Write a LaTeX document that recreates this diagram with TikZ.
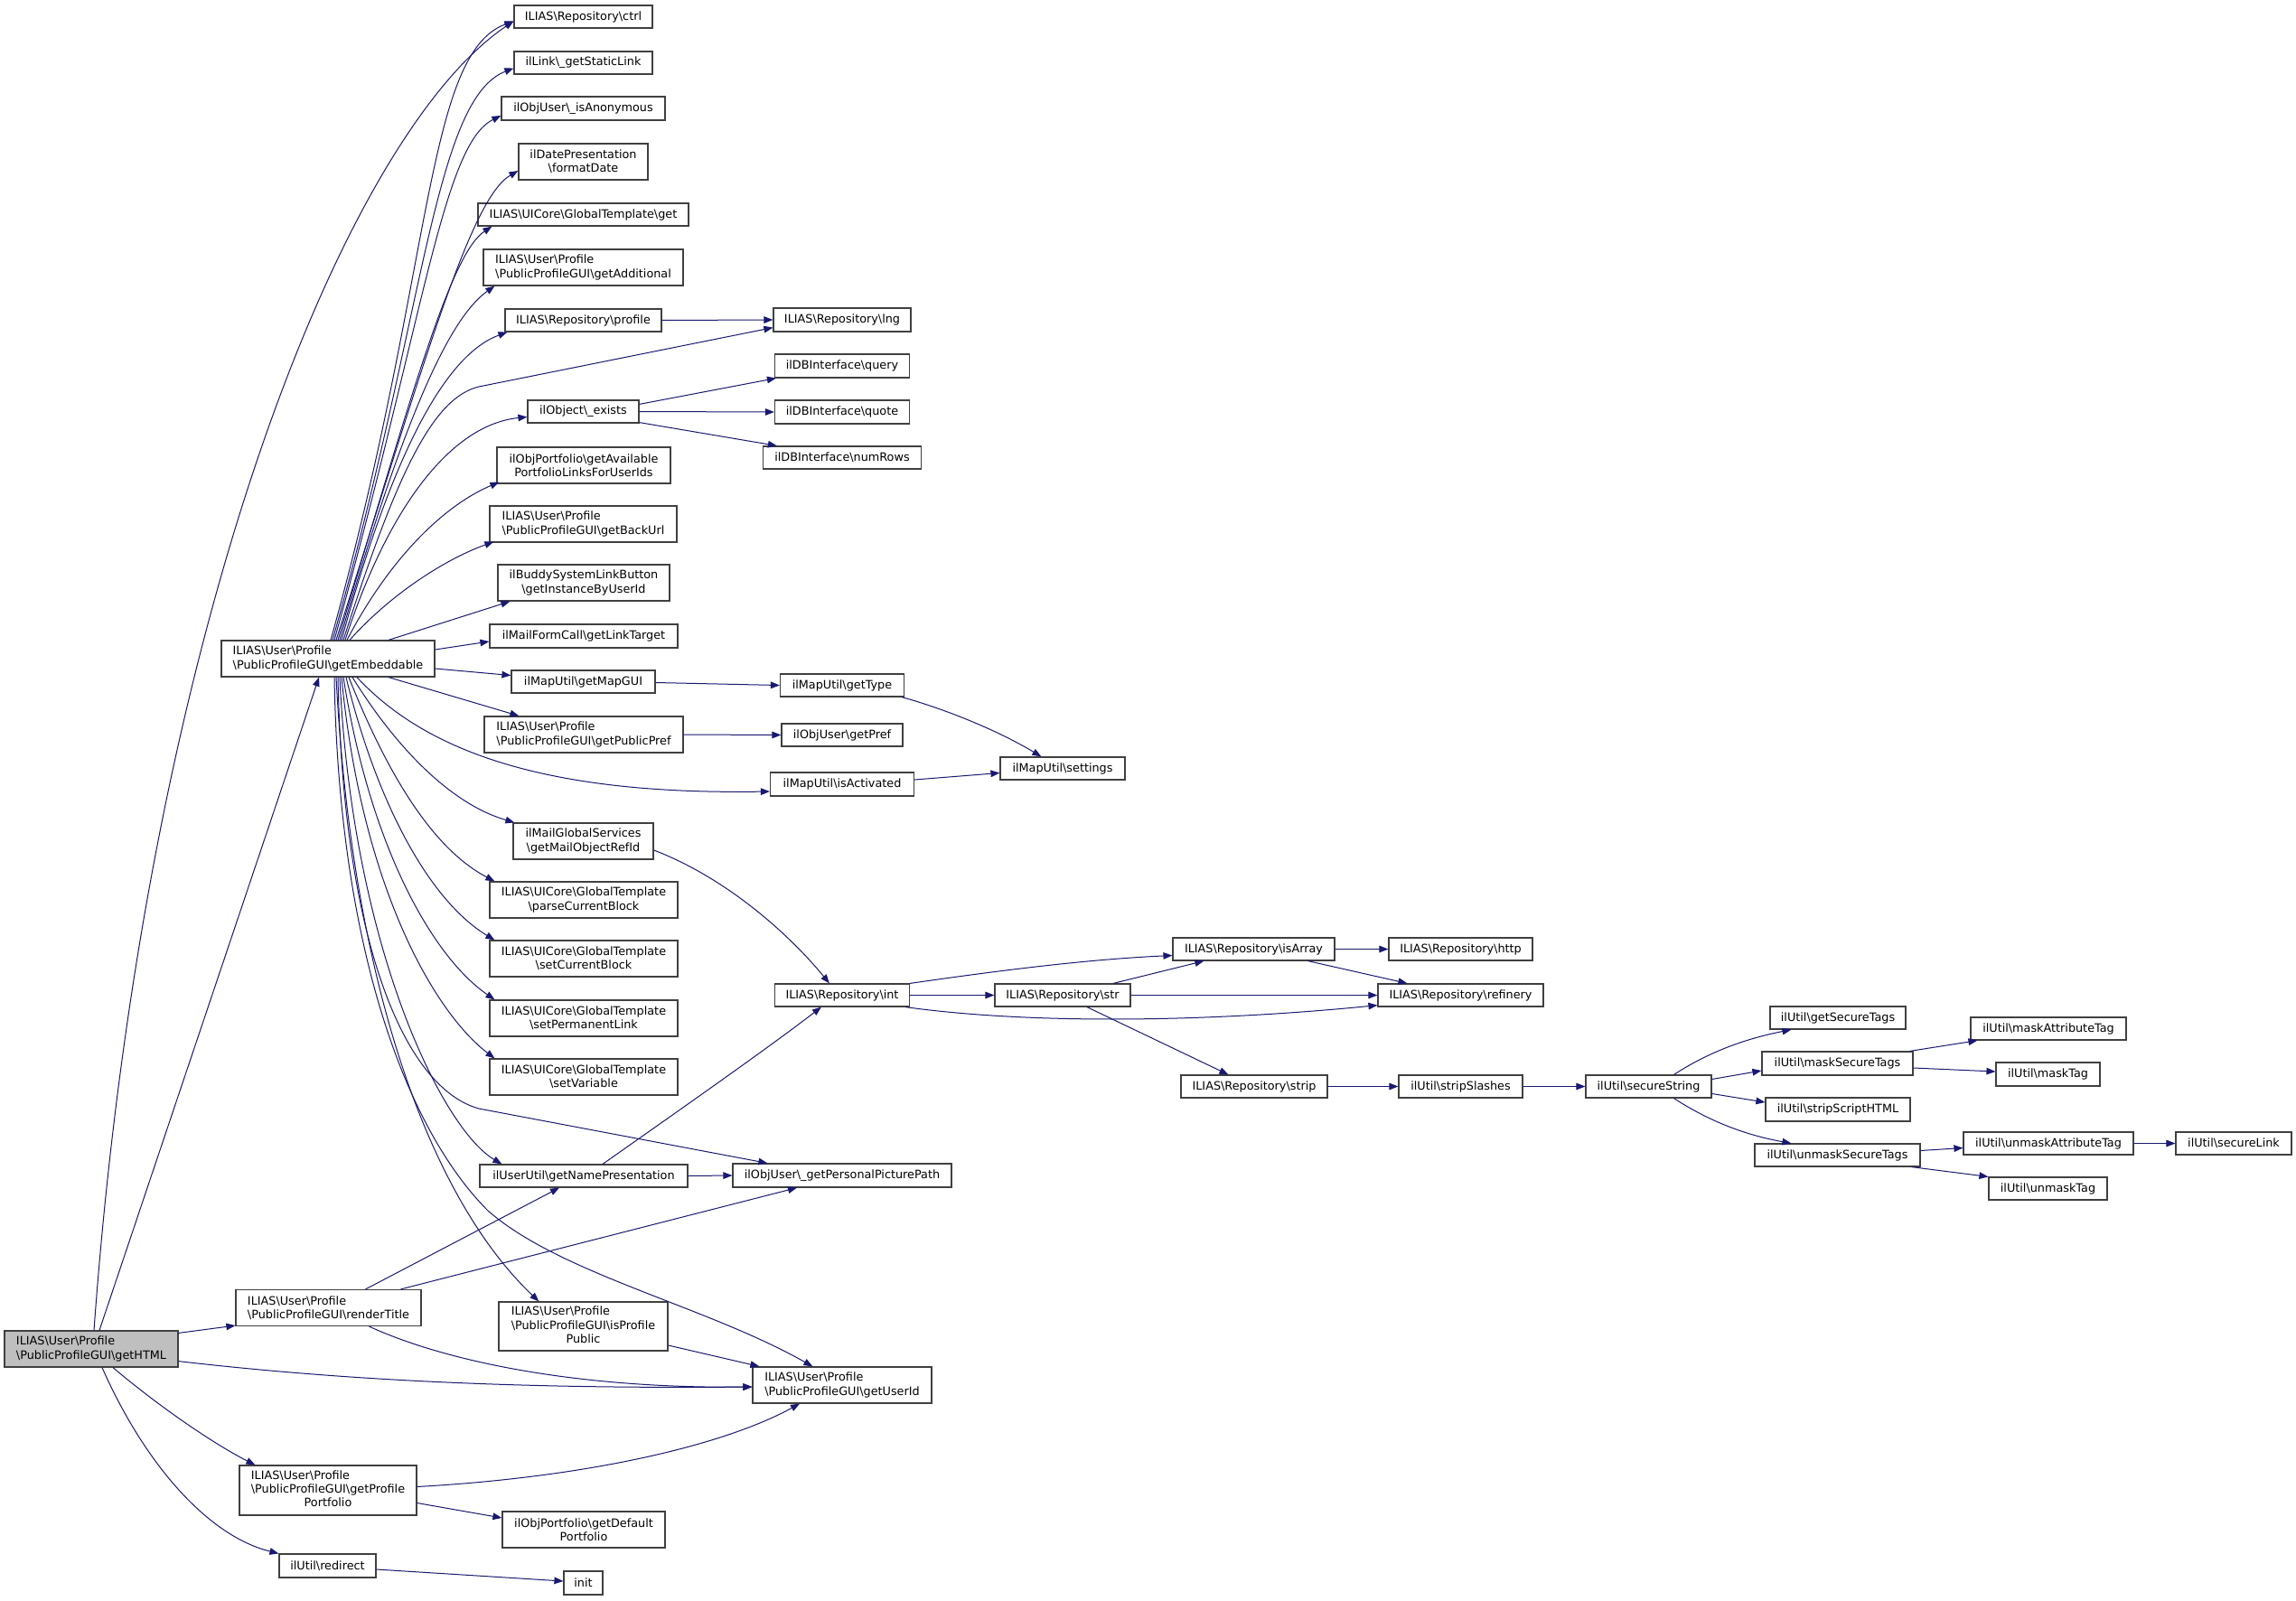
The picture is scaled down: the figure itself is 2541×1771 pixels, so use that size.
\documentclass[tikz,border=0pt]{standalone}
\usepackage{fontspec}
\newfontfamily\dxfont{DejaVu Sans}
\usetikzlibrary{calc, arrows.meta}

\definecolor{edgeblue}{HTML}{191970}
\definecolor{boxline}{HTML}{404040}
\definecolor{rootfill}{HTML}{BFBFBF}
\newcommand{\bsl}{\textbackslash}

\begin{document}
\begin{tikzpicture}[x=0.5pt, y=-0.5pt]
    \tikzstyle{fn} = [rectangle, draw=boxline, line width=0.6pt, fill=white, inner sep=0pt,
        font=\dxfont\fontsize{6.4}{7.65}\selectfont]
    \tikzstyle{call} = [draw=edgeblue, line width=0.5pt, -{Triangle[length=5pt, width=3.8pt]}]
    \tikzset{sz/.style 2 args={minimum width=#1*0.5pt, minimum height=#2*0.5pt}}

    \fill[white] (0,0) rectangle (2541,1771);
    \useasboundingbox (0,0) rectangle (2541,1771);

    % Callers ------------------------------------------
    \node (getHTML) at (101,1493) [fn, sz={192}{40}, fill=rootfill, align=left]
        {ILIAS\bsl User\bsl Profile\\\bsl PublicProfileGUI\bsl getHTML};
    \node (emb) at (363,729) [fn, sz={236}{40}, align=left]
        {ILIAS\bsl User\bsl Profile\\\bsl PublicProfileGUI\bsl getEmbeddable};
    \node (renderTitle) at (363.5,1447.5) [fn, sz={205}{40}, align=left]
        {ILIAS\bsl User\bsl Profile\\\bsl PublicProfileGUI\bsl renderTitle};
    \node (getProfilePortfolio) at (363,1649.5) [fn, sz={196}{55}]
        {\begin{tabular}{@{}l@{}}ILIAS\bsl User\bsl Profile\\\bsl PublicProfileGUI\bsl getProfile\\\multicolumn{1}{@{}c@{}}{Portfolio}\end{tabular}};
    \node (redirect) at (362.5,1733) [fn, sz={107}{26}] {ilUtil\bsl redirect};

    % Second column ------------------------------------
    \node (ctrl) at (645.5,18.5) [fn, sz={153}{25}] {ILIAS\bsl Repository\bsl ctrl};
    \node (getStaticLink) at (645.5,69.5) [fn, sz={153}{25}] {ilLink\bsl\_getStaticLink};
    \node (isAnonymous) at (645.5,120) [fn, sz={181}{26}] {ilObjUser\bsl\_isAnonymous};
    \node (formatDate) at (645.5,179) [fn, sz={143}{40}, align=center]
        {ilDatePresentation\\\bsl formatDate};
    \node (gtGet) at (645.5,237.5) [fn, sz={233}{25}] {ILIAS\bsl UICore\bsl GlobalTemplate\bsl get};
    \node (getAdditional) at (645.5,296) [fn, sz={221}{40}, align=left]
        {ILIAS\bsl User\bsl Profile\\\bsl PublicProfileGUI\bsl getAdditional};
    \node (profile) at (645.5,354.5) [fn, sz={173}{25}] {ILIAS\bsl Repository\bsl profile};
    \node (exists) at (645.5,455.5) [fn, sz={123}{25}] {ilObject\bsl\_exists};
    \node (getAvailable) at (646,515) [fn, sz={192}{40}, align=center]
        {ilObjPortfolio\bsl getAvailable\\PortfolioLinksForUserIds};
    \node (getBackUrl) at (645.5,580) [fn, sz={207}{40}, align=left]
        {ILIAS\bsl User\bsl Profile\\\bsl PublicProfileGUI\bsl getBackUrl};
    \node (getInstance) at (646,645) [fn, sz={190}{40}, align=center]
        {ilBuddySystemLinkButton\\\bsl getInstanceByUserId};
    \node (getLinkTarget) at (646,704) [fn, sz={208}{26}] {ilMailFormCall\bsl getLinkTarget};
    \node (getMapGUI) at (645.5,754.5) [fn, sz={159}{25}] {ilMapUtil\bsl getMapGUI};
    \node (getPublicPref) at (646,813) [fn, sz={220}{40}, align=left]
        {ILIAS\bsl User\bsl Profile\\\bsl PublicProfileGUI\bsl getPublicPref};
    \node (getMailObjectRefId) at (645.5,931) [fn, sz={155}{40}, align=center]
        {ilMailGlobalServices\\\bsl getMailObjectRefId};
    \node (parseCurrentBlock) at (646,996) [fn, sz={208}{40}, align=center]
        {ILIAS\bsl UICore\bsl GlobalTemplate\\\bsl parseCurrentBlock};
    \node (setCurrentBlock) at (646,1061) [fn, sz={208}{40}, align=center]
        {ILIAS\bsl UICore\bsl GlobalTemplate\\\bsl setCurrentBlock};
    \node (setPermanentLink) at (646,1127) [fn, sz={208}{40}, align=center]
        {ILIAS\bsl UICore\bsl GlobalTemplate\\\bsl setPermanentLink};
    \node (setVariable) at (646,1192) [fn, sz={208}{40}, align=center]
        {ILIAS\bsl UICore\bsl GlobalTemplate\\\bsl setVariable};
    \node (getNamePresentation) at (646,1301.5) [fn, sz={230}{25}] {ilUserUtil\bsl getNamePresentation};
    \node (isProfilePublic) at (645.5,1468) [fn, sz={187}{54}]
        {\begin{tabular}{@{}l@{}}ILIAS\bsl User\bsl Profile\\\bsl PublicProfileGUI\bsl isProfile\\\multicolumn{1}{@{}c@{}}{Public}\end{tabular}};
    \node (getDefaultPortfolio) at (646,1693) [fn, sz={180}{40}, align=center]
        {ilObjPortfolio\bsl getDefault\\Portfolio};
    \node (init) at (645.5,1752) [fn, sz={43}{26}] {init};

    % Third column -------------------------------------
    \node (lng) at (932,354) [fn, sz={152}{26}] {ILIAS\bsl Repository\bsl lng};
    \node (query) at (932,405) [fn, sz={149}{26}] {ilDBInterface\bsl query};
    \node (quote) at (932,456) [fn, sz={149}{26}] {ilDBInterface\bsl quote};
    \node (numRows) at (932,506.5) [fn, sz={175}{25}] {ilDBInterface\bsl numRows};
    \node (getType) at (932,758.5) [fn, sz={137}{25}] {ilMapUtil\bsl getType};
    \node (getPref) at (932,813.5) [fn, sz={134}{25}] {ilObjUser\bsl getPref};
    \node (isActivated) at (932,868) [fn, sz={159}{26}] {ilMapUtil\bsl isActivated};
    \node (int) at (932,1101.5) [fn, sz={149}{25}] {ILIAS\bsl Repository\bsl int};
    \node (picPath) at (932,1301) [fn, sz={242}{26}] {ilObjUser\bsl\_getPersonalPicturePath};
    \node (getUserId) at (932,1533) [fn, sz={198}{40}, align=left]
        {ILIAS\bsl User\bsl Profile\\\bsl PublicProfileGUI\bsl getUserId};

    % Repository helpers -------------------------------
    \node (settings) at (1176,850.5) [fn, sz={138}{25}] {ilMapUtil\bsl settings};
    \node (str) at (1176,1101.5) [fn, sz={150}{25}] {ILIAS\bsl Repository\bsl str};
    \node (isArray) at (1387.5,1050.5) [fn, sz={179}{25}] {ILIAS\bsl Repository\bsl isArray};
    \node (strip) at (1388,1202.5) [fn, sz={162}{25}] {ILIAS\bsl Repository\bsl strip};
    \node (http) at (1616.5,1050.5) [fn, sz={159}{25}] {ILIAS\bsl Repository\bsl http};
    \node (refinery) at (1616.5,1101.5) [fn, sz={183}{25}] {ILIAS\bsl Repository\bsl refinery};
    \node (stripSlashes) at (1616.5,1202.5) [fn, sz={137}{25}] {ilUtil\bsl stripSlashes};

    % ilUtil tags ---------------------------------------
    \node (secureString) at (1824.5,1202.5) [fn, sz={139}{25}] {ilUtil\bsl secureString};
    \node (getSecureTags) at (2034,1126.5) [fn, sz={150}{25}] {ilUtil\bsl getSecureTags};
    \node (maskSecureTags) at (2033.5,1177) [fn, sz={167}{26}] {ilUtil\bsl maskSecureTags};
    \node (stripScriptHTML) at (2034,1228) [fn, sz={160}{26}] {ilUtil\bsl stripScriptHTML};
    \node (unmaskSecureTags) at (2033.5,1278.5) [fn, sz={183}{25}] {ilUtil\bsl unmaskSecureTags};
    \node (maskAttributeTag) at (2267,1138.5) [fn, sz={172}{25}] {ilUtil\bsl maskAttributeTag};
    \node (maskTag) at (2266.5,1189) [fn, sz={115}{26}] {ilUtil\bsl maskTag};
    \node (unmaskAttributeTag) at (2267,1265.5) [fn, sz={188}{25}] {ilUtil\bsl unmaskAttributeTag};
    \node (unmaskTag) at (2266.5,1315.5) [fn, sz={131}{25}] {ilUtil\bsl unmaskTag};
    \node (secureLink) at (2472,1265.5) [fn, sz={128}{25}] {ilUtil\bsl secureLink};
    % ---------------------------------------------------

    % getHTML calls
    \draw[call] ($(getHTML.north)+(3,0)$) .. controls (160,700) and (380,150) .. ($(ctrl.west)+(0,5)$);
    \draw[call] ($(getHTML.north)+(9,0)$) -- ($(emb.south)+(-10,0)$);
    \draw[call] ($(getHTML.north east)+(0,3)$) -- ($(renderTitle.south west)+(0,-1)$);
    \draw[call] ($(getHTML.south east)+(0,-7)$) .. controls (400,1530) and (600,1537) .. ($(getUserId.west)+(0,2)$);
    \draw[call] ($(getHTML.south)+(24,0)$) .. controls (180,1560) and (240,1600) .. ($(getProfilePortfolio.north west)+(18,0)$);
    \draw[call] ($(getHTML.south)+(12,0)$) .. controls (160,1620) and (230,1700) .. (redirect.north west);

    % renderTitle, getProfilePortfolio, redirect
    \draw[call] ($(renderTitle.north)+(41,0)$) -- ($(getNamePresentation.south)+(-27,0)$);
    \draw[call] ($(renderTitle.north)+(80,0)$) -- ($(picPath.south)+(-50,0)$);
    \draw[call] ($(renderTitle.south)+(45,0)$) .. controls (500,1510) and (650,1537) .. ($(getUserId.west)+(0,2)$);
    \draw[call] ($(getProfilePortfolio.east)+(0,-4)$) .. controls (650,1635) and (800,1600) .. ($(getUserId.south)+(-47,0)$);
    \draw[call] ($(getProfilePortfolio.east)+(0,14)$) -- ($(getDefaultPortfolio.west)+(0,-13)$);
    \draw[call] ($(redirect.east)+(0,4)$) -- ($(init.west)+(0,-2)$);

    % getEmbeddable calls, upwards
    \draw[call] ($(emb.north)+(3,0)$) .. controls (480,300) and (470,60) .. ($(ctrl.west)+(0,5)$);
    \draw[call] ($(emb.north)+(5,0)$) .. controls (470,350) and (480,110) .. ($(getStaticLink.west)+(0,6)$);
    \draw[call] ($(emb.north)+(7,0)$) .. controls (470,350) and (490,160) .. ($(isAnonymous.west)+(0,8)$);
    \draw[call] ($(emb.north)+(9,0)$) .. controls (470,400) and (520,220) .. ($(formatDate.west)+(0,10)$);
    \draw[call] ($(emb.north)+(11,0)$) .. controls (460,420) and (500,280) .. ($(gtGet.south west)+(16,0)$);
    \draw[call] ($(emb.north)+(13,0)$) .. controls (450,450) and (500,350) .. ($(getAdditional.south west)+(13,0)$);
    \draw[call] ($(emb.north)+(15,0)$) .. controls (440,480) and (500,390) .. ($(profile.south west)+(3,0)$);
    \draw[call] ($(emb.north)+(17,0)$) .. controls (440,520) and (480,440) .. (530,428) -- ($(lng.south west)+(0,-5)$);
    \draw[call] ($(emb.north)+(19,0)$) .. controls (430,560) and (500,470) .. ($(exists.west)+(0,6)$);
    \draw[call] ($(emb.north)+(21,0)$) .. controls (430,620) and (490,560) .. ($(getAvailable.south west)+(3,-2)$);
    \draw[call] ($(emb.north)+(24,0)$) .. controls (430,660) and (490,620) .. ($(getBackUrl.south west)+(5,-1)$);
    \draw[call] ($(emb.north)+(67,0)$) -- ($(getInstance.south west)+(14,0)$);
    \draw[call] ($(emb.east)+(0,-10)$) -- ($(getLinkTarget.west)+(0,6)$);
    \draw[call] ($(emb.east)+(0,11)$) -- ($(getMapGUI.west)+(0,-7)$);

    % getEmbeddable calls, downwards
    \draw[call] ($(emb.south)+(67,0)$) -- ($(getPublicPref.north west)+(39,0)$);
    \draw[call] ($(emb.south)+(32,0)$) .. controls (470,830) and (600,880) .. ($(isActivated.west)+(0,8)$);
    \draw[call] ($(emb.south)+(27,0)$) .. controls (440,830) and (500,890) .. ($(getMailObjectRefId.north west)+(2,0)$);
    \draw[call] ($(emb.south)+(23,0)$) .. controls (430,860) and (480,940) .. ($(parseCurrentBlock.north west)+(6,0)$);
    \draw[call] ($(emb.south)+(20,0)$) .. controls (420,900) and (480,1000) .. ($(setCurrentBlock.north west)+(6,0)$);
    \draw[call] ($(emb.south)+(17,0)$) .. controls (410,940) and (480,1060) .. ($(setPermanentLink.north west)+(6,0)$);
    \draw[call] ($(emb.south)+(15,0)$) .. controls (400,980) and (480,1120) .. ($(setVariable.north west)+(6,0)$);
    \draw[call] ($(emb.south)+(13,0)$) .. controls (390,1050) and (490,1250) .. ($(getNamePresentation.north west)+(25,0)$);
    \draw[call] ($(emb.south)+(11,0)$) .. controls (380,1050) and (450,1205) .. (530,1227) -- ($(picPath.north west)+(39,0)$);
    \draw[call] ($(emb.south)+(9,0)$) .. controls (390,1100) and (480,1330) .. ($(isProfilePublic.north west)+(45,0)$);
    \draw[call] ($(emb.south)+(7,0)$) .. controls (375,1050) and (450,1250) .. (540,1340)
        .. controls (620,1410) and (780,1445) .. ($(getUserId.north west)+(67,0)$);

    % Second column calls
    \draw[call] (profile.east) -- (lng.west);
    \draw[call] ($(exists.north east)+(0,5)$) -- ($(query.south west)+(2,0)$);
    \draw[call] (exists.east) -- (quote.west);
    \draw[call] ($(exists.south east)+(0,-1)$) -- ($(numRows.north west)+(16,0)$);
    \draw[call] ($(getMapGUI.east)+(0,1)$) -- (getType.west);
    \draw[call] (getPublicPref.east) -- (getPref.west);
    \draw[call] ($(getMailObjectRefId.east)+(0,10)$) .. controls (800,970) and (870,1030) .. ($(int.north west)+(61,0)$);
    \draw[call] ($(getNamePresentation.north)+(21,0)$) .. controls (750,1230) and (850,1160) .. ($(int.south west)+(52,0)$);
    \draw[call] (getNamePresentation.east) -- (picPath.west);
    \draw[call] ($(isProfilePublic.east)+(0,21)$) -- ($(getUserId.north west)+(8,0)$);

    % Third column calls
    \draw[call] ($(getType.south east)+(-3,0)$) .. controls (1040,783) and (1100,806) .. ($(settings.north west)+(46,0)$);
    \draw[call] ($(isActivated.east)+(0,-5)$) -- ($(settings.west)+(0,5)$);
    \draw[call] (int.north east) .. controls (1100,1075) and (1200,1062) .. ($(isArray.west)+(0,7)$);
    \draw[call] (int.east) -- (str.west);
    \draw[call] ($(int.south east)+(-5,0)$) .. controls (1150,1135) and (1350,1130) .. ($(refinery.south west)+(0,-2)$);

    % Repository helpers calls
    \draw[call] ($(str.north)+(56,0)$) -- ($(isArray.south west)+(35,0)$);
    \draw[call] (str.east) -- (refinery.west);
    \draw[call] ($(str.south)+(27,0)$) -- ($(strip.north west)+(53,0)$);
    \draw[call] (isArray.east) -- (http.west);
    \draw[call] ($(isArray.south east)+(-30,0)$) -- ($(refinery.north west)+(33,0)$);
    \draw[call] (strip.east) -- (stripSlashes.west);
    \draw[call] (stripSlashes.east) -- (secureString.west);

    % ilUtil calls
    \draw[call] ($(secureString.north)+(28,0)$) .. controls (1890,1165) and (1930,1150) .. ($(getSecureTags.south west)+(24,0)$);
    \draw[call] ($(secureString.east)+(0,-8)$) -- ($(maskSecureTags.west)+(0,8)$);
    \draw[call] ($(secureString.east)+(0,8)$) -- ($(stripScriptHTML.west)+(0,-8)$);
    \draw[call] ($(secureString.south)+(28,0)$) .. controls (1890,1240) and (1930,1256) .. ($(unmaskSecureTags.north west)+(41,0)$);
    \draw[call] ($(maskSecureTags.north east)+(-4,0)$) -- ($(maskAttributeTag.south west)+(8,0)$);
    \draw[call] ($(maskSecureTags.east)+(0,5)$) -- ($(maskTag.west)+(0,-3)$);
    \draw[call] ($(unmaskSecureTags.east)+(0,-5)$) -- ($(unmaskAttributeTag.west)+(0,5)$);
    \draw[call] ($(unmaskSecureTags.south east)+(-10,0)$) -- (unmaskTag.north west);
    \draw[call] (unmaskAttributeTag.east) -- (secureLink.west);
\end{tikzpicture}
\end{document}
